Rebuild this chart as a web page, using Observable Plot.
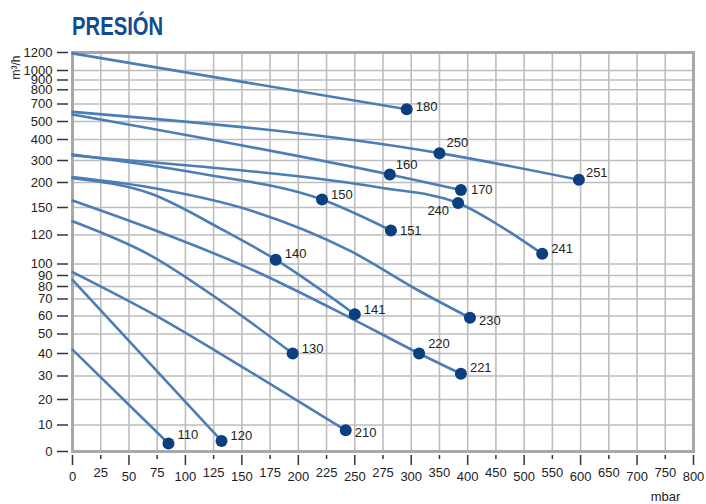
<!DOCTYPE html>
<html><head><meta charset="utf-8">
<script src="https://cdn.jsdelivr.net/npm/d3@7"></script>
<script src="https://cdn.jsdelivr.net/npm/@observablehq/plot@0.6"></script>
<style>
body{margin:0;background:#fff;}
#title{height:26px;padding:14px 0 0 72px;font:bold 25px/25px "Liberation Sans",Arial,sans-serif;color:#0f4c92;}
#title span{display:inline-block;transform:scaleX(0.81);transform-origin:0 0;}
</style></head><body>
<div id="title"><span>PRESIÓN</span></div>
<div id="chart"></div>
<script>
// ---- tick values ----
const xTicks = [0,25,50,75,100,125,150,175,200,225,250,275,300,350,400,450,500,550,600,650,700,750,800];
const yTicks = [0,10,20,30,40,50,60,70,80,90,100,120,150,200,300,400,500,700,800,900,1000,1200];

// ---- curves: pressure (mbar) and flow (m3/h) ----
const curveNames = ["110","120","210","130","220","140","230","150","240","160","250","180"];
const curvePressure = [
  [0,85],
  [0,132],
  [0,69,157,242],
  [0,69,131,195],
  [0,69,157,246,314,388],
  [0,69,131,180,250],
  [0,69,157,246,316,404],
  [0,113,221,282],
  [0,113,202,272,383,457,532],
  [0,281,388],
  [0,350,597],
  [0,296]
];
const curveFlow = [
  [42,3],
  [86,4],
  [93,62,32,8],
  [135,106,69,40],
  [164,127,96,59,40,31],
  [220,178,127,103,61],
  [225,190,147,109,76,59],
  [329,241,166,125],
  [324,273,227,190,159,130,107],
  [580,236,185],
  [610,335,212],
  [1190,640]
];

// ---- labelled points ----
const pointNames    = ["110","120","210","130","220","221","140","141","230","150","151","240","241","160","170","250","251","180"];
const pointPressure = [85,132,242,195,314,388,180,250,404,221,282,383,532,281,388,350,597,296];
const pointFlow     = [3,4,8,40,40,31,103,61,59,166,125,159,107,236,185,335,212,640];

// ---- label offsets (style) ----
const labelDx = [9,9,9,9,9,9,9,9,9,9,9,-9,9,6,10,7,7,9];
const labelDy = [-9,-5,3,-5,-10,-6,-6,-4,3,-5,0,8,-5,-10,0,-10,-7,-2];

// ---- layout ----
const W = 706, H = 464, L = 72, R = 693, T = 12, B = 411;
const yTickPos = [411,384.5,359,335.5,313,293.5,275.5,258.5,246,235,223.5,194.5,167,142,120,99,81,63.5,49.3,39.5,30,12];
const xTickPos = xTicks.map((d, i) => L + i * (R - L) / (xTicks.length - 1));

const lineRows = curveNames.flatMap((n, i) => curvePressure[i].map((p, j) => ({curve: n, p, q: curveFlow[i][j]})));
const pointRows = pointNames.map((n, i) => ({name: n, p: pointPressure[i], q: pointFlow[i], dx: labelDx[i], dy: labelDy[i]}));

const fmt = d => `${d}`;
const evenX = xTicks.filter((d, i) => i % 2 === 0);
const oddX = xTicks.filter((d, i) => i % 2 === 1);

const chart = Plot.plot({
  width: W, height: H,
  marginLeft: L, marginRight: W - R, marginTop: T, marginBottom: H - B,
  style: {fontFamily: "'Liberation Sans', Arial, sans-serif", fontSize: "13px", color: "#222", background: "#fff"},
  x: {type: "linear", domain: xTicks, range: xTickPos},
  y: {type: "linear", domain: yTicks, range: yTickPos},
  marks: [
    Plot.gridX(xTicks, {stroke: "#bdbdbd", strokeOpacity: 1, strokeWidth: 1.6}),
    Plot.gridY(yTicks, {stroke: "#bdbdbd", strokeOpacity: 1, strokeWidth: 1.6}),
    Plot.frame({stroke: "#a8a8a8", strokeWidth: 3}),
    Plot.axisY(yTicks, {anchor: "left", tickSize: 11, tickPadding: 5, dx: -4, tickFormat: fmt, label: null, strokeWidth: 1.5, stroke: "#333"}),
    Plot.axisX(evenX, {anchor: "bottom", tickSize: 10, tickPadding: 6, dy: 4, tickFormat: fmt, label: null, strokeWidth: 1.5, stroke: "#333"}),
    Plot.axisX(oddX, {anchor: "bottom", tickSize: 4, tickPadding: 8, dy: 4, tickFormat: fmt, label: null, strokeWidth: 1.5, stroke: "#333"}),
    Plot.line(lineRows, {x: "p", y: "q", z: "curve", stroke: "#4b7db6", strokeWidth: 2.6, curve: "monotone-x"}),
    Plot.dot(pointRows, {x: "p", y: "q", r: 6, fill: "#0b3f80", stroke: "none"}),
    ...pointRows.map(d => Plot.text([d], {x: "p", y: "q", text: "name", dx: d.dx, dy: d.dy, textAnchor: d.dx < 0 ? "end" : "start", fill: "#222", fontSize: 13})),
    Plot.text(["m³/h"], {frameAnchor: "top-left", dx: -56, dy: 15, rotate: -90, textAnchor: "middle", lineAnchor: "middle", fontSize: 12, fill: "#222"}),
    Plot.text(["mbar"], {frameAnchor: "bottom-right", dx: -28, dy: 45, textAnchor: "middle", lineAnchor: "middle", fontSize: 13, fill: "#222"})
  ]
});
document.getElementById("chart").appendChild(chart);
</script></body></html>
